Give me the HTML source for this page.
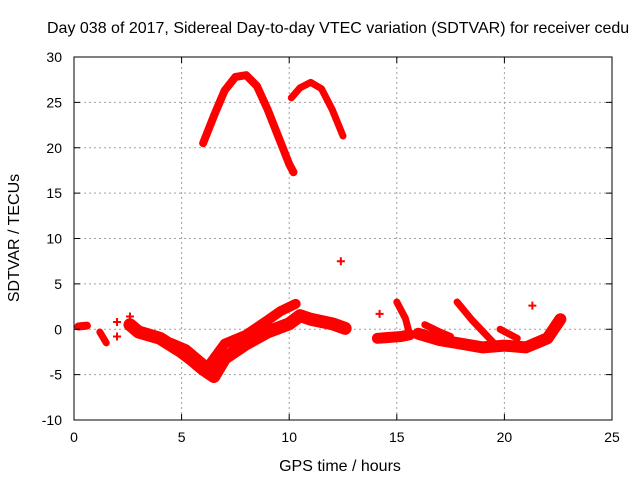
<!DOCTYPE html>
<html><head><meta charset="utf-8"><style>
body{margin:0;background:#fff;font-family:"Liberation Sans",sans-serif}
svg text{font-family:"Liberation Sans",sans-serif;font-size:14px;fill:#000}
svg text.big{font-size:16px}
</style></head><body>
<svg width="640" height="480" xmlns="http://www.w3.org/2000/svg">
<rect width="640" height="480" fill="#fff"/>
<g id="grid"></g>
<g id="marks"></g>
<rect x="74" y="57" width="538" height="363" fill="none" stroke="#000" stroke-width="1"/>
<g id="ticks"></g>
<text class="big" x="47" y="33" text-anchor="start">Day 038 of 2017, Sidereal Day-to-day VTEC variation (SDTVAR) for receiver cedu</text>
<text class="big" x="340" y="471" text-anchor="middle">GPS time / hours</text>
<text class="big" x="0" y="0" transform="translate(19,238) rotate(-90)" text-anchor="middle">SDTVAR / TECUs</text>
</svg>
<script>
const xTicks=[0,5,10,15,20,25];
const yTicks=[-10,-5,0,5,10,15,20,25,30];
const arc1=[[6.0,20.5],[6.5,23.5],[7,26.3],[7.5,27.8],[8,28],[8.5,26.8],[9,24.2],[9.5,21.2],[10,18.2],[10.2,17.3]];
const arc2=[[10.1,25.5],[10.5,26.6],[11,27.2],[11.5,26.5],[12,24.2],[12.5,21.3]];
const bandA=[[2.6,0.5],[3,-0.3],[4,-1],[5,-2.5],[5.5,-3.4],[6,-4.4],[6.5,-5.2],[7,-3.2],[8,-1.6],[9,-0.3],[10,0.6],[10.5,1.5],[11,1.1],[12,0.6],[12.6,0.1]];
const bandB=[[4.5,-1.5],[5.2,-2.2],[5.6,-3],[6.2,-4.2],[7,-1.6],[8,-0.6],[9,1],[9.6,2],[10.3,2.8]];
const bandC=[[14.1,-1],[15.2,-0.8],[15.6,-0.6]];
const bandD=[[15,3],[15.4,1.2],[15.6,-0.6]];
const bandE=[[16,-0.5],[17,-1.2],[18,-1.6],[19,-2],[20,-1.8],[21,-2],[22,-1],[22.6,1.1]];
const bandF=[[16.3,0.5],[17,-0.3],[17.5,-0.8]];
const bandG=[[17.8,3],[18.5,1],[19.5,-1.5]];
const bandH=[[19.8,0],[20.6,-1]];
const bandI=[[0.2,0.3],[0.6,0.4]];
const bandJ=[[1.2,-0.3],[1.5,-1.5]];
const singles=[[12.4,7.5],[14.2,1.7],[21.3,2.6],[2.0,0.8],[2.0,-0.8],[2.6,1.4]];
const sx=v=>74+v*538/25;
const sy=v=>57+(30-v)*363/40;
const NS="http://www.w3.org/2000/svg";
const grid=document.getElementById('grid'),ticks=document.getElementById('ticks'),marks=document.getElementById('marks');
function mk(t,a,p){const e=document.createElementNS(NS,t);for(const k in a)e.setAttribute(k,a[k]);p.appendChild(e);return e;}
xTicks.forEach(v=>{const x=sx(v);
 if(v>0&&v<25){const g=mk('line',{x1:x,x2:x,y1:57,y2:420,stroke:'#a0a0a0','stroke-dasharray':'2,3'},grid);
 
 }
 const t=mk('text',{x:x,y:442,'text-anchor':'middle'},ticks);t.textContent=v;
 
 
 mk('line',{x1:x,x2:x,y1:420,y2:414,stroke:'#000'},ticks);mk('line',{x1:x,x2:x,y1:57,y2:63,stroke:'#000'},ticks);});
yTicks.forEach(v=>{const y=sy(v);
 if(v>-10&&v<30){const g=mk('line',{x1:74,x2:612,y1:y,y2:y,stroke:'#a0a0a0','stroke-dasharray':'2,3'},grid);
 
 }
 const t=mk('text',{x:62,y:y+5,'text-anchor':'end'},ticks);t.textContent=v;
 
 
 mk('line',{x1:74,x2:80,y1:y,y2:y,stroke:'#000'},ticks);mk('line',{x1:612,x2:606,y1:y,y2:y,stroke:'#000'},ticks);});
const series=[[arc1,8],[arc2,7],[bandA,13],[bandB,10],[bandC,11],[bandD,7],[bandE,12],[bandF,7],[bandG,7],[bandH,7],[bandI,8],[bandJ,7]];
series.forEach(([d,w])=>{const p=mk('polyline',{points:d.map(q=>sx(q[0])+','+sy(q[1])).join(' '),fill:'none',stroke:'#ff0000','stroke-width':w,'stroke-linejoin':'round','stroke-linecap':'round'},marks);
 
 });
singles.forEach(q=>{const x=sx(q[0]),y=sy(q[1]);
 const p=mk('path',{d:`M${x-4},${y}H${x+4}M${x},${y-4}V${y+4}`,stroke:'#ff0000','stroke-width':2},marks);
 
 });
</script>
</body></html>
